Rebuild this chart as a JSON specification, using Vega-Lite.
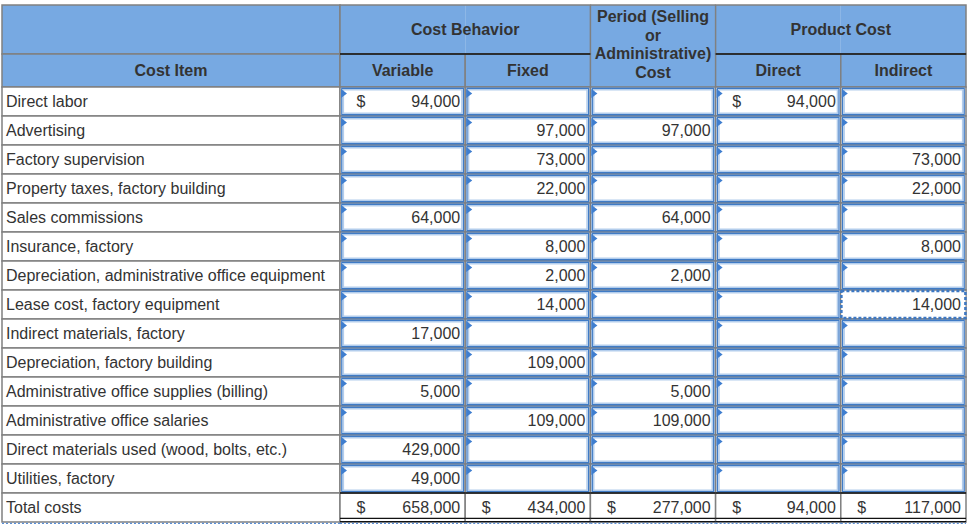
{
  "$schema": "https://vega.github.io/schema/vega-lite/v6.json",
  "background": "white",
  "padding": {"left": 1, "top": 4, "right": 5, "bottom": 3},
  "spacing": 0,
  "bounds": "flush",
  "columns": 2,
  "config": {
    "view": {"stroke": null},
    "font": "Liberation Sans",
    "text": {"font": "Liberation Sans", "fontSize": 16, "color": "#333333"}
  },
  "datasets": {
    "headLeft": [
      {"col": "Cost Item", "level": "group", "label": ""},
      {"col": "Cost Item", "level": "column", "label": "Cost Item"}
    ],
    "header": [
      {"col": "Variable", "label": "Variable"},
      {"col": "Fixed", "label": "Fixed"},
      {"col": "Period", "label": "Period (Selling\nor\nAdministrative)\nCost"},
      {"col": "Direct", "label": "Direct"},
      {"col": "Indirect", "label": "Indirect"}
    ],
    "groups": [
      {"group": "Cost Behavior", "first": "Variable", "last": "Fixed"},
      {"group": "Product Cost", "first": "Direct", "last": "Indirect"}
    ],
    "cells": [
      {"item": "Direct labor", "col": "Variable", "value": 94000, "prefix": "$"},
      {"item": "Direct labor", "col": "Fixed"},
      {"item": "Direct labor", "col": "Period"},
      {"item": "Direct labor", "col": "Direct", "value": 94000, "prefix": "$"},
      {"item": "Direct labor", "col": "Indirect"},
      {"item": "Advertising", "col": "Variable"},
      {"item": "Advertising", "col": "Fixed", "value": 97000},
      {"item": "Advertising", "col": "Period", "value": 97000},
      {"item": "Advertising", "col": "Direct"},
      {"item": "Advertising", "col": "Indirect"},
      {"item": "Factory supervision", "col": "Variable"},
      {"item": "Factory supervision", "col": "Fixed", "value": 73000},
      {"item": "Factory supervision", "col": "Period"},
      {"item": "Factory supervision", "col": "Direct"},
      {"item": "Factory supervision", "col": "Indirect", "value": 73000},
      {"item": "Property taxes, factory building", "col": "Variable"},
      {"item": "Property taxes, factory building", "col": "Fixed", "value": 22000},
      {"item": "Property taxes, factory building", "col": "Period"},
      {"item": "Property taxes, factory building", "col": "Direct"},
      {"item": "Property taxes, factory building", "col": "Indirect", "value": 22000},
      {"item": "Sales commissions", "col": "Variable", "value": 64000},
      {"item": "Sales commissions", "col": "Fixed"},
      {"item": "Sales commissions", "col": "Period", "value": 64000},
      {"item": "Sales commissions", "col": "Direct"},
      {"item": "Sales commissions", "col": "Indirect"},
      {"item": "Insurance, factory", "col": "Variable"},
      {"item": "Insurance, factory", "col": "Fixed", "value": 8000},
      {"item": "Insurance, factory", "col": "Period"},
      {"item": "Insurance, factory", "col": "Direct"},
      {"item": "Insurance, factory", "col": "Indirect", "value": 8000},
      {"item": "Depreciation, administrative office equipment", "col": "Variable"},
      {"item": "Depreciation, administrative office equipment", "col": "Fixed", "value": 2000},
      {"item": "Depreciation, administrative office equipment", "col": "Period", "value": 2000},
      {"item": "Depreciation, administrative office equipment", "col": "Direct"},
      {"item": "Depreciation, administrative office equipment", "col": "Indirect"},
      {"item": "Lease cost, factory equipment", "col": "Variable"},
      {"item": "Lease cost, factory equipment", "col": "Fixed", "value": 14000},
      {"item": "Lease cost, factory equipment", "col": "Period"},
      {"item": "Lease cost, factory equipment", "col": "Direct"},
      {"item": "Lease cost, factory equipment", "col": "Indirect", "value": 14000},
      {"item": "Indirect materials, factory", "col": "Variable", "value": 17000},
      {"item": "Indirect materials, factory", "col": "Fixed"},
      {"item": "Indirect materials, factory", "col": "Period"},
      {"item": "Indirect materials, factory", "col": "Direct"},
      {"item": "Indirect materials, factory", "col": "Indirect"},
      {"item": "Depreciation, factory building", "col": "Variable"},
      {"item": "Depreciation, factory building", "col": "Fixed", "value": 109000},
      {"item": "Depreciation, factory building", "col": "Period"},
      {"item": "Depreciation, factory building", "col": "Direct"},
      {"item": "Depreciation, factory building", "col": "Indirect"},
      {"item": "Administrative office supplies (billing)", "col": "Variable", "value": 5000},
      {"item": "Administrative office supplies (billing)", "col": "Fixed"},
      {"item": "Administrative office supplies (billing)", "col": "Period", "value": 5000},
      {"item": "Administrative office supplies (billing)", "col": "Direct"},
      {"item": "Administrative office supplies (billing)", "col": "Indirect"},
      {"item": "Administrative office salaries", "col": "Variable"},
      {"item": "Administrative office salaries", "col": "Fixed", "value": 109000},
      {"item": "Administrative office salaries", "col": "Period", "value": 109000},
      {"item": "Administrative office salaries", "col": "Direct"},
      {"item": "Administrative office salaries", "col": "Indirect"},
      {"item": "Direct materials used (wood, bolts, etc.)", "col": "Variable", "value": 429000},
      {"item": "Direct materials used (wood, bolts, etc.)", "col": "Fixed"},
      {"item": "Direct materials used (wood, bolts, etc.)", "col": "Period"},
      {"item": "Direct materials used (wood, bolts, etc.)", "col": "Direct"},
      {"item": "Direct materials used (wood, bolts, etc.)", "col": "Indirect"},
      {"item": "Utilities, factory", "col": "Variable", "value": 49000},
      {"item": "Utilities, factory", "col": "Fixed"},
      {"item": "Utilities, factory", "col": "Period"},
      {"item": "Utilities, factory", "col": "Direct"},
      {"item": "Utilities, factory", "col": "Indirect"},
      {"item": "Total costs", "col": "Variable", "value": 658000, "prefix": "$"},
      {"item": "Total costs", "col": "Fixed", "value": 434000, "prefix": "$"},
      {"item": "Total costs", "col": "Period", "value": 277000, "prefix": "$"},
      {"item": "Total costs", "col": "Direct", "value": 94000, "prefix": "$"},
      {"item": "Total costs", "col": "Indirect", "value": 117000, "prefix": "$"}
    ]
  },
  "concat": [
    {
      "width": 338,
      "height": 49,
      "data": {"name": "headLeft"},
      "transform": [{"filter": "datum.level === 'group'"}],
      "encoding": {
        "x": {"field": "col", "type": "nominal", "axis": null, "scale": {"type": "band", "paddingInner": 0, "paddingOuter": 0}},
        "y": {"field": "level", "type": "nominal", "axis": null, "scale": {"type": "band", "paddingInner": 0, "paddingOuter": 0}}
      },
      "mark": {"type": "rect", "fill": "#77a9e2", "stroke": "#808080", "strokeWidth": 1.5}
    },
    {
      "width": 626,
      "height": 49,
      "encoding": {
        "x": {"field": "col", "type": "nominal", "axis": null, "scale": {"type": "band", "paddingInner": 0, "paddingOuter": 0, "domain": ["Variable", "Fixed", "Period", "Direct", "Indirect"]}},
        "y": {"datum": "group", "type": "nominal", "axis": null, "scale": {"type": "band", "paddingInner": 0, "paddingOuter": 0}}
      },
      "layer": [
        {
          "data": {"name": "header"},
          "mark": {"type": "rect", "fill": "#77a9e2"}
        },
        {
          "data": {"name": "groups"},
          "mark": {"type": "rect", "fillOpacity": 0, "stroke": "#808080", "strokeWidth": 1.5},
          "encoding": {
            "x": {"field": "first", "type": "nominal", "bandPosition": 0},
            "x2": {"field": "last", "bandPosition": 1}
          }
        },
        {
          "data": {"name": "header"},
          "transform": [{"filter": "datum.col === 'Period'"}],
          "mark": {"type": "rule", "color": "#808080", "strokeWidth": 1.5},
          "encoding": {
            "x": {"field": "col", "type": "nominal", "bandPosition": 0},
            "x2": {"field": "col", "bandPosition": 1},
            "y": {"datum": "group", "type": "nominal", "bandPosition": 0}
          }
        },
        {
          "data": {"name": "groups"},
          "mark": {"type": "text", "fontWeight": "bold", "align": "center", "baseline": "middle"},
          "encoding": {
            "x": {"field": "first", "type": "nominal", "bandPosition": 1},
            "text": {"field": "group"}
          }
        }
      ]
    },
    {
      "width": 338,
      "height": 33,
      "data": {"name": "headLeft"},
      "transform": [{"filter": "datum.level === 'column'"}],
      "encoding": {
        "x": {"field": "col", "type": "nominal", "axis": null, "scale": {"type": "band", "paddingInner": 0, "paddingOuter": 0}},
        "y": {"field": "level", "type": "nominal", "axis": null, "scale": {"type": "band", "paddingInner": 0, "paddingOuter": 0}}
      },
      "layer": [
        {"mark": {"type": "rect", "fill": "#77a9e2", "stroke": "#808080", "strokeWidth": 1.5}},
        {"mark": {"type": "text", "fontWeight": "bold", "align": "center", "baseline": "middle"}, "encoding": {"text": {"field": "label"}}}
      ]
    },
    {
      "width": 626,
      "height": 33,
      "encoding": {
        "x": {"field": "col", "type": "nominal", "axis": null, "scale": {"type": "band", "paddingInner": 0, "paddingOuter": 0, "domain": ["Variable", "Fixed", "Period", "Direct", "Indirect"]}},
        "y": {"datum": "column", "type": "nominal", "axis": null, "scale": {"type": "band", "paddingInner": 0, "paddingOuter": 0}}
      },
      "layer": [
        {
          "data": {"name": "header"},
          "transform": [{"filter": "datum.col === 'Period'"}],
          "mark": {"type": "rect", "fill": "#77a9e2"}
        },
        {
          "data": {"name": "header"},
          "transform": [{"filter": "datum.col !== 'Period'"}],
          "mark": {"type": "rect", "fill": "#77a9e2", "stroke": "#808080", "strokeWidth": 1.5}
        },
        {
          "data": {"name": "groups"},
          "mark": {"type": "rule", "color": "#111111", "strokeWidth": 1.5},
          "encoding": {
            "x": {"field": "first", "type": "nominal", "bandPosition": 0},
            "x2": {"field": "last", "bandPosition": 1},
            "y": {"datum": "column", "type": "nominal", "bandPosition": 0}
          }
        },
        {
          "data": {"name": "header"},
          "transform": [{"filter": "datum.col !== 'Period'"}],
          "mark": {"type": "text", "fontWeight": "bold", "align": "center", "baseline": "middle"},
          "encoding": {"text": {"field": "label"}}
        },
        {
          "data": {"name": "header"},
          "transform": [{"filter": "datum.col === 'Period'"}],
          "mark": {"type": "text", "fontWeight": "bold", "align": "center", "baseline": "middle", "lineBreak": "\n", "lineHeight": 18.7, "dy": -53.5},
          "encoding": {"text": {"field": "label"}}
        }
      ]
    },
    {
      "width": 338,
      "height": 435,
      "data": {"name": "cells"},
      "transform": [{"filter": "datum.col === 'Variable'"}],
      "encoding": {
        "x": {"datum": "Cost Item", "type": "nominal", "axis": null, "scale": {"type": "band", "paddingInner": 0, "paddingOuter": 0}},
        "y": {"field": "item", "type": "nominal", "axis": null, "sort": null, "scale": {"type": "band", "paddingInner": 0, "paddingOuter": 0, "domain": ["Direct labor", "Advertising", "Factory supervision", "Property taxes, factory building", "Sales commissions", "Insurance, factory", "Depreciation, administrative office equipment", "Lease cost, factory equipment", "Indirect materials, factory", "Depreciation, factory building", "Administrative office supplies (billing)", "Administrative office salaries", "Direct materials used (wood, bolts, etc.)", "Utilities, factory", "Total costs"]}}
      },
      "layer": [
        {"mark": {"type": "rect", "fill": "white", "stroke": "#808080", "strokeWidth": 1.5}},
        {
          "mark": {"type": "text", "align": "left", "baseline": "middle", "dx": 4},
          "encoding": {
            "x": {"datum": "Cost Item", "type": "nominal", "bandPosition": 0},
            "text": {"field": "item"}
          }
        },
        {
          "transform": [{"filter": "datum.item === 'Total costs'"}],
          "mark": {"type": "rule", "color": "#5b8fd6", "strokeWidth": 1.3, "strokeDash": [2, 2], "yOffset": 1.3},
          "encoding": {
            "x": {"datum": "Cost Item", "type": "nominal", "bandPosition": 0},
            "x2": {"datum": "Cost Item", "bandPosition": 1},
            "y": {"field": "item", "type": "nominal", "bandPosition": 1}
          }
        }
      ]
    },
    {
      "width": 626,
      "height": 435,
      "data": {"name": "cells"},
      "encoding": {
        "x": {"field": "col", "type": "nominal", "axis": null, "scale": {"type": "band", "paddingInner": 0, "paddingOuter": 0, "domain": ["Variable", "Fixed", "Period", "Direct", "Indirect"]}},
        "y": {"field": "item", "type": "nominal", "axis": null, "sort": null, "scale": {"type": "band", "paddingInner": 0, "paddingOuter": 0, "domain": ["Direct labor", "Advertising", "Factory supervision", "Property taxes, factory building", "Sales commissions", "Insurance, factory", "Depreciation, administrative office equipment", "Lease cost, factory equipment", "Indirect materials, factory", "Depreciation, factory building", "Administrative office supplies (billing)", "Administrative office salaries", "Direct materials used (wood, bolts, etc.)", "Utilities, factory", "Total costs"]}}
      },
      "layer": [
        {"mark": {"type": "rect", "fill": "white", "stroke": "#808080", "strokeWidth": 1.5}},
        {
          "transform": [{"filter": "datum.item !== 'Total costs' && !(datum.item === 'Lease cost, factory equipment' && datum.col === 'Indirect')"}],
          "mark": {"type": "rect", "width": 121.5, "height": 26.5, "fill": "white", "stroke": "#3f7bc6", "strokeWidth": 1.4}
        },
        {
          "transform": [{"filter": "datum.item !== 'Total costs' && !(datum.item === 'Lease cost, factory equipment' && datum.col === 'Indirect')"}],
          "mark": {"type": "rect", "width": 118.5, "height": 23.5, "fillOpacity": 0, "stroke": "#b3cdec", "strokeWidth": 1.5}
        },
        {
          "transform": [{"filter": "datum.item === 'Lease cost, factory equipment' && datum.col === 'Indirect'"}],
          "mark": {"type": "rect", "width": 124, "height": 27, "fill": "white", "stroke": "#3d78c3", "strokeWidth": 2.5, "strokeDash": [3, 2]}
        },
        {
          "transform": [{"filter": "datum.item !== 'Total costs' && !(datum.item === 'Lease cost, factory equipment' && datum.col === 'Indirect')"}],
          "mark": {"type": "point", "shape": "M-0.67,-1L0.67,0L-0.67,1Z", "size": 81, "filled": true, "opacity": 1, "color": "#3f7ecf", "xOffset": 4, "yOffset": 6.5},
          "encoding": {
            "x": {"field": "col", "type": "nominal", "bandPosition": 0},
            "y": {"field": "item", "type": "nominal", "bandPosition": 0}
          }
        },
        {
          "transform": [{"filter": "isValid(datum.prefix)"}],
          "mark": {"type": "text", "align": "center", "baseline": "middle", "dx": 21},
          "encoding": {
            "x": {"field": "col", "type": "nominal", "bandPosition": 0},
            "text": {"field": "prefix"}
          }
        },
        {
          "transform": [{"filter": "isValid(datum.value)"}],
          "mark": {"type": "text", "align": "right", "baseline": "middle", "dx": -5},
          "encoding": {
            "x": {"field": "col", "type": "nominal", "bandPosition": 1},
            "text": {"field": "value", "type": "quantitative", "format": ","}
          }
        },
        {
          "transform": [{"filter": "datum.item === 'Total costs'"}],
          "mark": {"type": "rule", "color": "#111111", "strokeWidth": 1.3},
          "encoding": {
            "x": {"field": "col", "type": "nominal", "bandPosition": 0},
            "x2": {"field": "col", "bandPosition": 1},
            "y": {"field": "item", "type": "nominal", "bandPosition": 0}
          }
        },
        {
          "transform": [{"filter": "datum.item === 'Total costs'"}],
          "mark": {"type": "rule", "color": "#111111", "strokeWidth": 1.3, "yOffset": -3.7},
          "encoding": {
            "x": {"field": "col", "type": "nominal", "bandPosition": 0},
            "x2": {"field": "col", "bandPosition": 1},
            "y": {"field": "item", "type": "nominal", "bandPosition": 1}
          }
        },
        {
          "transform": [{"filter": "datum.item === 'Total costs'"}],
          "mark": {"type": "rule", "color": "#111111", "strokeWidth": 1.3, "yOffset": -0.3},
          "encoding": {
            "x": {"field": "col", "type": "nominal", "bandPosition": 0},
            "x2": {"field": "col", "bandPosition": 1},
            "y": {"field": "item", "type": "nominal", "bandPosition": 1}
          }
        },
        {
          "transform": [{"filter": "datum.item === 'Total costs'"}],
          "mark": {"type": "rule", "color": "#5b8fd6", "strokeWidth": 1.3, "strokeDash": [2, 2], "yOffset": 1.3},
          "encoding": {
            "x": {"field": "col", "type": "nominal", "bandPosition": 0},
            "x2": {"field": "col", "bandPosition": 1},
            "y": {"field": "item", "type": "nominal", "bandPosition": 1}
          }
        }
      ]
    }
  ]
}
